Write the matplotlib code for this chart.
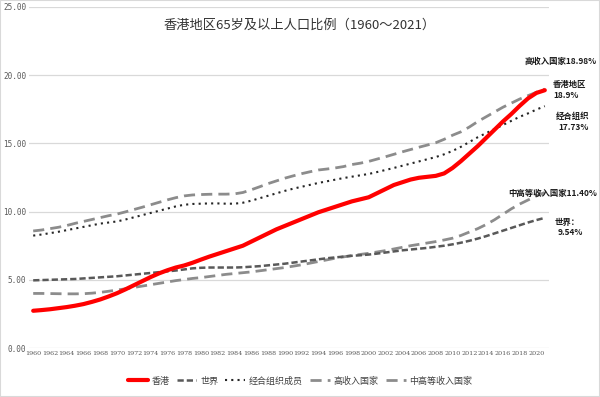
import numpy as np
import matplotlib
matplotlib.use("Agg")
import matplotlib.pyplot as plt
from matplotlib.patches import Rectangle

plt.rcParams['font.family'] = ['Noto Sans CJK SC', 'DejaVu Sans']

years = list(range(1960, 2022))

hk = [2.73, 2.78, 2.84, 2.92, 3.00, 3.10, 3.22, 3.38, 3.56, 3.78,
      4.02, 4.30, 4.60, 4.90, 5.20, 5.47, 5.70, 5.90, 6.05, 6.25,
      6.48, 6.70, 6.90, 7.10, 7.30, 7.50, 7.80, 8.10, 8.40, 8.70,
      8.95, 9.20, 9.45, 9.70, 9.95, 10.15, 10.35, 10.55, 10.75, 10.90,
      11.05, 11.35, 11.65, 11.95, 12.15, 12.35, 12.48, 12.55, 12.62, 12.80,
      13.20, 13.70, 14.25, 14.80, 15.40, 16.00, 16.60, 17.15, 17.75, 18.30,
      18.70, 18.90]

world = [4.96, 4.98, 5.00, 5.02, 5.04, 5.06, 5.10, 5.14, 5.18, 5.22,
         5.26, 5.32, 5.38, 5.44, 5.50, 5.56, 5.62, 5.68, 5.76, 5.84,
         5.88, 5.90, 5.90, 5.90, 5.90, 5.92, 5.96, 6.00, 6.06, 6.12,
         6.18, 6.26, 6.34, 6.42, 6.50, 6.58, 6.64, 6.70, 6.76, 6.80,
         6.85, 6.92, 7.00, 7.08, 7.16, 7.22, 7.28, 7.34, 7.42, 7.50,
         7.60, 7.72, 7.86, 8.02, 8.20, 8.40, 8.60, 8.80, 9.00, 9.20,
         9.38, 9.54]

oecd = [8.24, 8.32, 8.42, 8.52, 8.64, 8.76, 8.88, 9.00, 9.12, 9.20,
        9.28, 9.42, 9.58, 9.74, 9.90, 10.06, 10.22, 10.38, 10.50, 10.56,
        10.58, 10.60, 10.60, 10.58, 10.58, 10.65, 10.80, 10.98, 11.16, 11.34,
        11.52, 11.68, 11.82, 11.96, 12.10, 12.22, 12.34, 12.46, 12.56, 12.66,
        12.76, 12.90, 13.05, 13.20, 13.36, 13.52, 13.68, 13.84, 14.00, 14.20,
        14.45, 14.75, 15.10, 15.45, 15.75, 16.05, 16.35, 16.65, 16.95, 17.20,
        17.48, 17.73]

high_income = [8.58, 8.65, 8.75, 8.85, 8.98, 9.14, 9.28, 9.42, 9.56, 9.70,
               9.82, 9.98, 10.15, 10.32, 10.50, 10.68, 10.86, 11.02, 11.15, 11.22,
               11.25, 11.27, 11.28, 11.28, 11.30, 11.40, 11.60, 11.82, 12.05, 12.25,
               12.45, 12.62, 12.78, 12.92, 13.05, 13.12, 13.20, 13.30, 13.45, 13.55,
               13.68, 13.85, 14.02, 14.20, 14.38, 14.55, 14.72, 14.88, 15.05, 15.30,
               15.60, 15.85, 16.20, 16.60, 16.95, 17.30, 17.65, 17.95, 18.25, 18.50,
               18.75, 18.98]

upper_mid = [4.00, 4.00, 3.99, 3.98, 3.97, 3.97, 3.98, 4.02, 4.08, 4.16,
             4.25, 4.34, 4.44, 4.54, 4.64, 4.74, 4.84, 4.94, 5.02, 5.10,
             5.16, 5.24, 5.32, 5.40, 5.46, 5.52, 5.58, 5.66, 5.74, 5.82,
             5.90, 6.00, 6.10, 6.22, 6.34, 6.46, 6.58, 6.68, 6.78, 6.86,
             6.94, 7.04, 7.14, 7.26, 7.38, 7.50, 7.60, 7.70, 7.80, 7.92,
             8.05, 8.25, 8.50, 8.75, 9.05, 9.40, 9.80, 10.20, 10.55, 10.85,
             11.15, 11.40]

y_ticks = [0, 5, 10, 15, 20, 25]
x_ticks = years[::2]

fig = plt.figure(figsize=(6, 3.97), dpi=100)
ax = fig.add_axes([29 / 600, 49 / 397, 520 / 600, 341 / 397])

ax.plot(years, high_income, color='#8c8c8c', lw=2, ls=(0, (4, 2.2)), label='高收入国家', zorder=2)
ax.plot(years, upper_mid, color='#8c8c8c', lw=2, ls=(0, (4, 2.2)), label='中高等收入国家', zorder=2)
ax.plot(years, world, color='#595959', lw=1.8, ls=(0, (2.5, 1.2)), label='世界', zorder=3)
ax.plot(years, oecd, color='#262626', lw=1.5, ls=(0, (1, 2)), label='经合组织成员', zorder=3)
ax.plot(years, hk, color='#ff0000', lw=3, solid_capstyle='round', label='香港', zorder=4)

ax.set_xlim(1959.5, 2021.5)
ax.set_ylim(0, 25)
ax.set_yticks(y_ticks)
ax.set_yticklabels([f'{v:.2f}' for v in y_ticks], fontsize=5.5, color='#595959',
                   family='DejaVu Sans Mono')
ax.set_xticks(x_ticks)
ax.set_xticklabels([str(y) for y in x_ticks], fontsize=4.6, color='#595959',
                   family='DejaVu Serif')
ax.tick_params(length=0, pad=2)
ax.grid(axis='y', color='#d9d9d9', lw=0.9)
ax.set_axisbelow(True)
for s in ax.spines.values():
    s.set_visible(False)

fig.text(0.5, 1 - 25 / 397, '香港地区65岁及以上人口比例（1960～2021）', ha='center', va='center',
         fontsize=9.5, color='#333333')

# 右侧标注
ann = dict(fontsize=6, fontweight='bold', color='#1a1a1a')
fig.text(597 / 600, 1 - 61 / 397, '高收入国家18.98%', ha='right', va='center', **ann)
fig.text(553 / 600, 1 - 85 / 397, '香港地区', ha='left', va='center', **ann)
fig.text(553 / 600, 1 - 96 / 397, '18.9%', ha='left', va='center', **ann)
fig.text(556 / 600, 1 - 116 / 397, '经合组织', ha='left', va='center', **ann)
fig.text(558 / 600, 1 - 127 / 397, '17.73%', ha='left', va='center', **ann)
fig.text(597 / 600, 1 - 193 / 397, '中高等收入国家11.40%', ha='right', va='center', **ann)
fig.text(555 / 600, 1 - 222 / 397, '世界：', ha='left', va='center', **ann)
fig.text(558 / 600, 1 - 233 / 397, '9.54%', ha='left', va='center', **ann)

handles, labels = ax.get_legend_handles_labels()
order = [4, 2, 3, 0, 1]
fig.legend([handles[i] for i in order], [labels[i] for i in order],
           loc='center', bbox_to_anchor=(0.5, 1 - 381 / 397), ncol=5, frameon=False,
           fontsize=6.5, handlelength=2.2, handletextpad=0.4, columnspacing=0.8,
           labelcolor='#404040')

fig.patches.append(Rectangle((0, 0), 1, 1, transform=fig.transFigure, fill=False,
                             edgecolor='#d9d9d9', lw=1.5))

fig.savefig('out.png', dpi=100)
